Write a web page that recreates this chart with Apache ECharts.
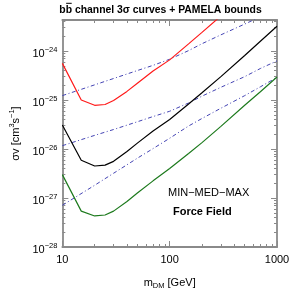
<!DOCTYPE html>
<html>
<head>
<meta charset="utf-8">
<script src="https://cdn.jsdelivr.net/npm/echarts@6/dist/echarts.min.js"></script>
<style>
html,body{margin:0;padding:0;background:#fff;}
#chart{width:295px;height:295px;}
</style>
</head>
<body>
<div id="chart"></div>
<script>
// ---- data (mass in GeV, sigma v in cm^3 s^-1) ----
const massCurves = [10, 15, 20, 25, 30, 40, 50, 70, 100, 150, 200, 300, 500, 700, 1000];
const redMax   = [5.6e-25, 1.0e-25, 7.8e-26, 8.1e-26, 9.8e-26, 1.5e-25, 2.2e-25, 3.9e-25, 6.6e-25, 1.4e-24, 2.4e-24, 5.2e-24, 1.4e-23, 2.75e-23, 5.6e-23];
const blackMed = [3.1e-26, 5.9e-27, 4.5e-27, 4.7e-27, 5.6e-27, 8.9e-27, 1.32e-26, 2.34e-26, 4.0e-26, 8.3e-26, 1.41e-25, 3.0e-25, 8.1e-25, 1.58e-24, 3.2e-24];
const greenMin = [3.0e-27, 5.4e-28, 4.3e-28, 4.5e-28, 5.4e-28, 8.5e-28, 1.26e-27, 2.24e-27, 4.0e-27, 8.1e-27, 1.35e-26, 2.9e-26, 7.8e-26, 1.48e-25, 2.95e-25];

const massPamela = [10, 20, 30, 50, 70, 100, 150, 200, 300, 500, 700, 1000];
const pamelaMax = [1.23e-25, 2.04e-25, 2.75e-25, 4.0e-25, 5.1e-25, 6.8e-25, 1.02e-24, 1.41e-24, 2.14e-24, 3.55e-24, 5.0e-24, 7.6e-24];
const pamelaMed = [1.17e-26, 1.9e-26, 2.5e-26, 3.6e-26, 4.6e-26, 5.9e-26, 8.7e-26, 1.2e-25, 1.82e-25, 3.0e-25, 4.4e-25, 6.3e-25];
const pamelaMin = [7.1e-28, 1.82e-27, 3.2e-27, 6.5e-27, 1.02e-26, 1.66e-26, 2.95e-26, 4.2e-26, 6.8e-26, 1.23e-25, 1.86e-25, 2.9e-25];

const xMajor = [10, 100, 1000];
const yMajorExp = [-28, -27, -26, -25, -24];
const yTopValue = 4.3e-24;

// ---- build ----
const L = Math.log10;
const xMinor = [];
[10, 100].forEach(d => { for (let k = 2; k <= 9; k++) xMinor.push(L(k * d)); });
const yMinor = [];
yMajorExp.forEach(e => { for (let k = 2; k <= 9; k++) { const v = L(k) + e; if (v <= L(yTopValue)) yMinor.push(v); } });

const FONT = 'Liberation Sans, Arial, sans-serif';
const GREY = '#8a8a8a';
const BLUE = '#4444b4';
const xMin = L(xMajor[0]), xMax = L(xMajor[xMajor.length - 1]);
const yMin = yMajorExp[0], yMax = L(yTopValue);

function pts(ms, vs) { return ms.map((m, i) => [L(m), L(vs[i])]); }

function xAxisDef(pos, major, showLabel) {
  return {
    type: 'value', position: pos, min: xMin, max: xMax,
    axisLine: { show: major, onZero: false, lineStyle: { color: GREY, width: 1.8 } },
    axisTick: { show: true, inside: true, length: major ? 6 : 3, customValues: major ? xMajor.map(L) : xMinor,
                lineStyle: { color: GREY, width: 1 } },
    axisLabel: { show: showLabel, customValues: xMajor.map(L), margin: 7,
                 formatter: v => String(Math.round(Math.pow(10, v))),
                 fontSize: 11, fontFamily: FONT, color: '#000' },
    splitLine: { show: false },
    name: showLabel ? '{m|m}{d|DM}{m| [GeV]}' : '',
    nameLocation: 'middle', nameGap: 29,
    nameTextStyle: { rich: {
      m: { fontSize: 11, fontFamily: FONT, color: '#000', lineHeight: 14, verticalAlign: 'middle' },
      d: { fontSize: 7.5, fontFamily: FONT, color: '#000', lineHeight: 8, verticalAlign: 'bottom' }
    } }
  };
}
function yAxisDef(pos, major, showLabel) {
  return {
    type: 'value', position: pos, min: yMin, max: yMax,
    axisLine: { show: major, onZero: false, lineStyle: { color: GREY, width: 1.8 } },
    axisTick: { show: true, inside: true, length: major ? 6 : 3, customValues: major ? yMajorExp : yMinor,
                lineStyle: { color: GREY, width: 1 } },
    axisLabel: { show: showLabel, customValues: yMajorExp, margin: 5, padding: [5, 0, 0, 0],
                 formatter: v => '{b|10}{s|' + String(Math.round(v)).replace('-', '\u2212') + '}',
                 rich: {
                   b: { fontSize: 11, fontFamily: FONT, color: '#000', lineHeight: 16, verticalAlign: 'middle' },
                   s: { fontSize: 7.5, fontFamily: FONT, color: '#000', lineHeight: 8, verticalAlign: 'top' }
                 } },
    splitLine: { show: false },
    name: showLabel ? '{b|\u03c3v [cm}{s|3}{b|s}{s|\u22121}{b|]}' : '',
    nameLocation: 'middle', nameGap: 36, nameRotate: 90,
    nameTextStyle: { rich: {
      b: { fontSize: 11, fontFamily: FONT, color: '#000', lineHeight: 16, verticalAlign: 'middle' },
      s: { fontSize: 7.5, fontFamily: FONT, color: '#000', lineHeight: 8, verticalAlign: 'top' }
    } }
  };
}

// title layout: measure to place the overline on the second "b"
const TITLE = 'bb channel 3\u03c3 curves + PAMELA bounds';
const TITLE_FONT = 'bold 10.4px ' + FONT;
const mctx = document.createElement('canvas').getContext('2d');
mctx.font = TITLE_FONT;
const tW = mctx.measureText(TITLE).width;
const bW = mctx.measureText('b').width;
const titleCx = 160.5, titleY = 10.5;
const tLeft = titleCx - tW / 2;

const chart = echarts.init(document.getElementById('chart'), null, { renderer: 'canvas' });
const lineBase = { type: 'line', xAxisIndex: 0, yAxisIndex: 0, showSymbol: false, symbol: 'none', clip: true, smooth: false, animation: false, silent: true };
chart.setOption({
  animation: false,
  backgroundColor: '#fff',
  grid: { left: 44, right: 18, top: 20, bottom: 44 },
  xAxis: [xAxisDef('bottom', true, true), xAxisDef('bottom', false, false), xAxisDef('top', true, false), xAxisDef('top', false, false)],
  yAxis: [yAxisDef('left', true, true), yAxisDef('left', false, false), yAxisDef('right', true, false), yAxisDef('right', false, false)],
  graphic: [
    { type: 'text', x: titleCx, y: titleY, style: { text: TITLE, font: TITLE_FONT, fill: '#000', textAlign: 'center', textVerticalAlign: 'middle' } },
    { type: 'line', shape: { x1: tLeft + bW + 0.5, y1: 3.3, x2: tLeft + 2 * bW - 0.3, y2: 3.3 }, style: { stroke: '#000', lineWidth: 1 } },
    { type: 'text', x: 168, y: 193, style: { text: 'MIN\u2212MED\u2212MAX', font: '11px ' + FONT, fill: '#000', textAlign: 'left', textVerticalAlign: 'middle' } },
    { type: 'text', x: 173, y: 212, style: { text: 'Force Field', font: 'bold 11px ' + FONT, fill: '#000', textAlign: 'left', textVerticalAlign: 'middle' } }
  ],
  series: [
    Object.assign({}, lineBase, { name: 'PAMELA max', data: pts(massPamela, pamelaMax), lineStyle: { color: BLUE, width: 1, type: [4, 2.5, 1, 2.5] } }),
    Object.assign({}, lineBase, { name: 'PAMELA med', data: pts(massPamela, pamelaMed), lineStyle: { color: BLUE, width: 1, type: [4, 2.5, 1, 2.5] } }),
    Object.assign({}, lineBase, { name: 'PAMELA min', data: pts(massPamela, pamelaMin), lineStyle: { color: BLUE, width: 1, type: [4, 2.5, 1, 2.5] } }),
    Object.assign({}, lineBase, { name: 'MAX', data: pts(massCurves, redMax), lineStyle: { color: '#ff1a1a', width: 1.2 } }),
    Object.assign({}, lineBase, { name: 'MED', data: pts(massCurves, blackMed), lineStyle: { color: '#000000', width: 1.2 } }),
    Object.assign({}, lineBase, { name: 'MIN', data: pts(massCurves, greenMin), lineStyle: { color: '#1d7a1d', width: 1.2 } })
  ]
});
</script>
</body>
</html>
